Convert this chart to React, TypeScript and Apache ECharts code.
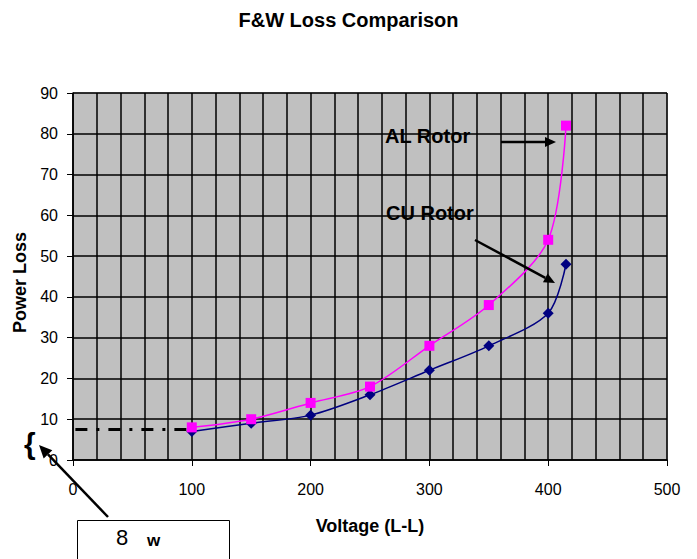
import React, { useEffect, useRef } from "react";
import * as echarts from "echarts";

const titleText = "F&W Loss Comparison";
const xAxisName = "Voltage (L-L)";
const yAxisName = "Power Loss";
const voltage = [100, 150, 200, 250, 300, 350, 400, 415];
const alRotor = [8, 10, 14, 18, 28, 38, 54, 82];
const cuRotor = [7, 9, 11, 16, 22, 28, 36, 48];
const baselineX = [2, 97];
const baselineY = 7.5;
const alLabel = "AL Rotor";
const cuLabel = "CU Rotor";
const boxValue = "8";
const boxUnit = "w";

const SANS = "'Liberation Sans', Arial, sans-serif";

function arrow(x1: number, y1: number, x2: number, y2: number, head = 11, w = 5) {
  const a = Math.atan2(y2 - y1, x2 - x1);
  const bx = x2 - head * Math.cos(a);
  const by = y2 - head * Math.sin(a);
  const px = -Math.sin(a) * w;
  const py = Math.cos(a) * w;
  return [
    { type: "line", shape: { x1, y1, x2: bx, y2: by }, style: { stroke: "#000", lineWidth: 2.5 }, z: 100 },
    {
      type: "polygon",
      shape: { points: [[x2, y2], [bx + px, by + py], [bx - px, by - py]] },
      style: { fill: "#000" },
      z: 100,
    },
  ];
}

export default function App() {
  const ref = useRef<HTMLDivElement>(null);
  useEffect(() => {
    if (!ref.current) return;
    const chart = echarts.init(ref.current, undefined, { renderer: "svg" });
    const option = {
      animation: false,
      backgroundColor: "#fff",
      title: {
        text: titleText,
        left: "center",
        top: 5,
        textStyle: { fontFamily: SANS, fontWeight: "bold", fontSize: 20, color: "#000" },
      },
      grid: {
        left: 73,
        right: 30,
        top: 93,
        bottom: 99,
        show: true,
        backgroundColor: "#c0c0c0",
        borderColor: "#808080",
        borderWidth: 1,
      },
      xAxis: {
        type: "value",
        min: 0,
        max: 500,
        interval: 100,
        name: xAxisName,
        nameLocation: "middle",
        nameGap: 57,
        nameTextStyle: { fontFamily: SANS, fontWeight: "bold", fontSize: 18, color: "#000" },
        axisLine: { show: true, lineStyle: { color: "#000", width: 1.5 } },
        axisTick: { show: true, length: 6, lineStyle: { color: "#000" } },
        axisLabel: { margin: 21, fontFamily: SANS, fontSize: 16, color: "#000" },
        splitLine: { show: true, lineStyle: { color: "#000", width: 1.5 } },
        minorTick: { show: false, splitNumber: 5 },
        minorSplitLine: { show: true, lineStyle: { color: "#000", width: 1.5 } },
      },
      yAxis: {
        type: "value",
        min: 0,
        max: 90,
        interval: 10,
        name: yAxisName,
        nameLocation: "middle",
        nameGap: 44,
        nameTextStyle: { fontFamily: SANS, fontWeight: "bold", fontSize: 18, color: "#000", padding: [0, 0, 0, -12] },
        axisLine: { show: true, lineStyle: { color: "#000", width: 1.5 } },
        axisTick: { show: true, length: 6, lineStyle: { color: "#000" } },
        axisLabel: { margin: 15, fontFamily: SANS, fontSize: 16, color: "#000" },
        splitLine: { show: true, lineStyle: { color: "#000", width: 1.5 } },
      },
      series: [
        {
          name: "baseline",
          type: "line",
          data: baselineX.map((x) => [x, baselineY]),
          symbol: "none",
          lineStyle: { color: "#000", width: 3, type: [12, 9, 3, 9] },
          z: 1,
          silent: true,
        },
        {
          name: cuLabel,
          type: "line",
          data: voltage.map((v, i) => [v, cuRotor[i]]),
          smooth: 0.3,
          symbol: "diamond",
          symbolSize: 11,
          itemStyle: { color: "#000080" },
          lineStyle: { color: "#000080", width: 1.5 },
          z: 3,
        },
        {
          name: alLabel,
          type: "line",
          data: voltage.map((v, i) => [v, alRotor[i]]),
          smooth: 0.3,
          symbol: "rect",
          symbolSize: 10,
          itemStyle: { color: "#ff00ff" },
          lineStyle: { color: "#ff00ff", width: 1.5 },
          z: 4,
        },
      ],
      graphic: [
        {
          type: "text",
          left: 385,
          top: 126,
          style: { text: alLabel, fontFamily: SANS, fontWeight: "bold", fontSize: 20, fill: "#000" },
          z: 100,
        },
        {
          type: "text",
          left: 386,
          top: 203,
          style: { text: cuLabel, fontFamily: SANS, fontWeight: "bold", fontSize: 20, fill: "#000" },
          z: 100,
        },
        ...arrow(501, 142, 556, 142),
        ...arrow(475, 240, 555, 283),
        {
          type: "text",
          left: 24,
          top: 428,
          style: { text: "{", fontFamily: SANS, fontWeight: "bold", fontSize: 30, fill: "#000" },
          z: 100,
        },
        ...arrow(108, 517, 39, 445, 13, 6),
        {
          type: "rect",
          shape: { x: 77.5, y: 520.5, width: 152, height: 60 },
          style: { fill: "#fff", stroke: "#000", lineWidth: 1 },
          z: 90,
        },
        {
          type: "text",
          left: 116,
          top: 526,
          style: { text: boxValue, fontFamily: SANS, fontSize: 22, fill: "#000" },
          z: 100,
        },
        {
          type: "text",
          left: 147,
          top: 532,
          style: { text: boxUnit, fontFamily: SANS, fontWeight: "bold", fontSize: 17, fill: "#000" },
          z: 100,
        },
      ],
    };
    chart.setOption(option as any);
    return () => chart.dispose();
  }, []);
  return <div ref={ref} style={{ width: 697, height: 559, position: "absolute", left: 0, top: 0 }} />;
}
